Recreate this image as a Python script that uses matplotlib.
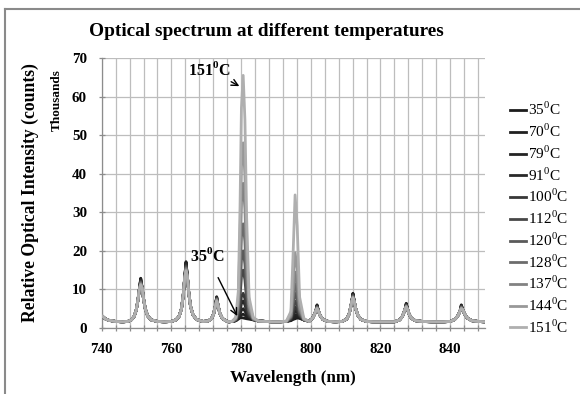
"""
Optical spectrum at different temperatures
"""
import matplotlib
matplotlib.use("Agg")
import matplotlib.pyplot as plt
from matplotlib.lines import Line2D
from matplotlib.ticker import MultipleLocator

plt.rcParams['font.family'] = ['Liberation Serif', 'DejaVu Serif']
plt.rcParams['mathtext.fontset'] = 'custom'
plt.rcParams['mathtext.rm'] = 'Liberation Serif'
plt.rcParams['mathtext.bf'] = 'Liberation Serif:bold'

# температуры серий (легенда)
temperatures = [35, 70, 79, 91, 100, 112, 120, 128, 137, 144, 151]
colors = ['#1c1c1c', '#202020', '#242424', '#292929', '#383838', '#474747',
          '#5a5a5a', '#6c6c6c', '#828282', '#989898', '#afafaf']

# общая часть спектра слева (740-775 нм), тыс. отсчётов
wl_left = [740, 741, 742, 744, 746, 747.5, 748.5, 749.3, 749.9, 750.4, 750.8, 751.2,
           751.6, 752.0, 752.5, 753.2, 754.2, 756, 758, 760, 761.3, 762.2, 762.9,
           763.4, 763.8, 764.2, 764.6, 765.0, 765.5, 766.2, 767.2, 769, 770.5,
           771.5, 772.1, 772.6, 773.0, 773.4, 773.9, 774.6, 775.6]
int_left = [3.2, 2.4, 2.0, 1.7, 1.6, 1.7, 2.1, 3.0, 4.6, 7.2, 10.0, 11.2,
            10.4, 7.6, 5.0, 3.1, 2.1, 1.7, 1.6, 1.7, 2.1, 3.0, 5.0,
            8.5, 12.8, 14.8, 13.2, 9.0, 5.6, 3.4, 2.2, 1.7, 1.8,
            2.4, 3.6, 5.6, 7.0, 5.8, 3.8, 2.5, 1.9]

# окно главной линии (~780.6 нм), своё для каждой температуры
wl_main = [776.5, 777.5, 778.5, 779.2, 779.7, 780.1, 780.6, 781.1, 781.6,
           782.3, 783.5, 785, 787, 789]
int_main = {
    35:  [1.6, 1.7, 1.9, 2.3, 2.6, 2.7, 2.6, 2.5, 2.4, 2.3, 2.1, 1.9, 1.7, 1.6],
    70:  [1.6, 1.7, 1.9, 2.5, 3.0, 3.4, 3.6, 3.3, 2.9, 2.5, 2.2, 1.9, 1.7, 1.6],
    79:  [1.6, 1.7, 1.9, 2.7, 3.7, 4.6, 5.0, 4.4, 3.5, 2.7, 2.2, 1.9, 1.7, 1.6],
    91:  [1.6, 1.7, 2.0, 3.0, 4.6, 6.3, 7.0, 6.0, 4.3, 2.9, 2.2, 1.8, 1.7, 1.6],
    100: [1.6, 1.7, 2.0, 3.3, 5.5, 8.1, 9.0, 7.6, 5.0, 3.1, 2.1, 1.8, 1.7, 1.6],
    112: [1.6, 1.7, 2.1, 3.9, 8.2, 13.3, 15.0, 12.5, 7.3, 3.6, 2.2, 1.8, 1.7, 1.6],
    120: [1.6, 1.7, 2.2, 4.5, 10.6, 17.6, 20.0, 16.6, 9.2, 4.0, 2.2, 1.8, 1.7, 1.6],
    128: [1.6, 1.7, 2.3, 5.3, 13.8, 23.6, 27.0, 22.4, 12.2, 4.6, 2.3, 1.8, 1.7, 1.6],
    137: [1.6, 1.7, 2.4, 6.3, 18.5, 32.6, 37.5, 31.0, 16.5, 5.4, 2.4, 1.8, 1.7, 1.6],
    144: [1.6, 1.7, 2.6, 7.4, 23.5, 41.8, 48.0, 39.5, 21.0, 6.2, 2.5, 1.8, 1.7, 1.6],
    151: [1.6, 1.8, 2.8, 9.5, 31.5, 57.0, 65.5, 54.0, 28.5, 8.0, 2.7, 1.8, 1.7, 1.6],
}

# окно второй линии (~795.5 нм)
wl_sec = [791, 793, 794.3, 794.9, 795.5, 796.1, 796.8, 798, 799.5]
int_sec = {
    35:  [1.6, 1.7, 1.9, 2.2, 2.4, 2.6, 2.5, 2.1, 1.8],
    70:  [1.6, 1.7, 2.0, 2.4, 2.8, 2.9, 2.6, 2.1, 1.8],
    79:  [1.6, 1.7, 2.1, 2.8, 3.5, 3.3, 2.8, 2.1, 1.8],
    91:  [1.6, 1.7, 2.2, 3.3, 4.5, 4.0, 3.0, 2.1, 1.8],
    100: [1.6, 1.7, 2.3, 3.8, 5.5, 4.7, 3.2, 2.1, 1.7],
    112: [1.6, 1.7, 2.5, 4.7, 7.0, 5.9, 3.5, 2.1, 1.7],
    120: [1.6, 1.7, 2.7, 5.8, 9.0, 7.5, 3.9, 2.1, 1.7],
    128: [1.6, 1.7, 2.9, 7.1, 11.5, 9.3, 4.4, 2.2, 1.7],
    137: [1.6, 1.7, 3.1, 8.7, 14.5, 11.6, 5.0, 2.2, 1.7],
    144: [1.6, 1.7, 3.5, 11.2, 19.5, 15.5, 5.8, 2.3, 1.7],
    151: [1.6, 1.8, 4.3, 18.5, 34.5, 26.5, 8.0, 2.5, 1.7],
}

# общая часть спектра справа (800-850 нм)
wl_right = [800.5, 801.1, 801.5, 801.8, 802.2, 802.7, 803.5, 805, 807, 809, 810.3,
            811.0, 811.5, 811.8, 812.1, 812.5, 812.9, 813.5, 814.4, 816, 818, 821,
            824, 825.5, 826.3, 826.8, 827.1, 827.4, 827.8, 828.2, 828.9, 830,
            832, 835, 838, 840, 841.3, 842.1, 842.6, 842.9, 843.2, 843.6, 844.1,
            844.9, 846.2, 848, 850]
int_right = [2.5, 3.6, 4.6, 5.0, 4.4, 3.2, 2.2, 1.7, 1.6, 1.7, 2.3,
             3.6, 5.6, 7.0, 7.8, 6.8, 5.0, 3.3, 2.2, 1.7, 1.6, 1.6,
             1.6, 2.1, 3.0, 4.2, 5.0, 5.5, 4.8, 3.6, 2.5, 1.9,
             1.7, 1.6, 1.6, 1.7, 2.2, 3.0, 3.9, 4.6, 5.0, 4.8, 3.7,
             2.6, 1.9, 1.7, 1.6]

# вершины малых линий по температурам
small_peaks = [751.2, 764.2, 773.0, 801.8, 812.1, 827.4, 843.2]
small_tops = {
    35:  [12.9, 17.2, 8.1, 6.0, 9.0, 6.4, 6.0],
    70:  [12.8, 17.0, 8.0, 5.9, 8.9, 6.3, 5.9],
    79:  [12.6, 16.8, 7.9, 5.8, 8.8, 6.2, 5.8],
    91:  [12.4, 16.5, 7.8, 5.7, 8.7, 6.1, 5.7],
    100: [12.2, 16.2, 7.7, 5.6, 8.5, 6.0, 5.6],
    112: [12.0, 16.0, 7.6, 5.5, 8.4, 5.9, 5.5],
    120: [11.8, 15.7, 7.5, 5.4, 8.3, 5.8, 5.4],
    128: [11.7, 15.5, 7.4, 5.3, 8.1, 5.7, 5.3],
    137: [11.5, 15.3, 7.3, 5.2, 8.0, 5.6, 5.2],
    144: [11.3, 15.0, 7.1, 5.1, 7.9, 5.5, 5.1],
    151: [11.2, 14.8, 7.0, 5.0, 7.8, 5.5, 5.0],
}


def series_for(t):
    wl = wl_left + wl_main + wl_sec + wl_right
    vals = int_left + int_main[t] + int_sec[t] + int_right
    for peak, top in zip(small_peaks, small_tops[t]):
        vals[wl.index(peak)] = top
    return wl, vals


W, H = 580, 394
fig = plt.figure(figsize=(W / 100, H / 100), dpi=100)
ax = fig.add_axes([101.7 / W, 1 - 328 / H, (485 - 101.7) / W, 270 / H])

handles = []
for t, c in zip(temperatures, colors):
    wl, vals = series_for(t)
    line, = ax.plot(wl, vals, color=c, linewidth=2.0, solid_joinstyle='round',
                    label=r'%d$^{\mathrm{0}}$C' % t, zorder=3)
    handles.append(line)

ax.set_xlim(740, 850)
ax.set_ylim(0, 70)
ax.xaxis.set_major_locator(MultipleLocator(20))
ax.xaxis.set_minor_locator(MultipleLocator(4))
ax.yaxis.set_major_locator(MultipleLocator(10))
ax.grid(True, which='both', axis='x', color='#bdbdbd', linewidth=0.9, zorder=0)
ax.grid(True, which='major', axis='y', color='#bdbdbd', linewidth=0.9, zorder=0)
ax.set_axisbelow(True)

for side in ['top', 'right']:
    ax.spines[side].set_visible(False)
for side in ['left', 'bottom']:
    ax.spines[side].set_color('#8c8c8c')
    ax.spines[side].set_linewidth(0.9)

ax.tick_params(axis='both', which='both', direction='inout', length=5,
               color='#8c8c8c', width=0.9)
ax.tick_params(axis='x', which='major', pad=8, labelsize=10.8)
ax.tick_params(axis='y', which='major', pad=8, labelsize=10.8)
for lbl in ax.get_xticklabels() + ax.get_yticklabels():
    lbl.set_fontweight('bold')

ax.set_xlabel('Wavelength (nm)', fontsize=12.3, fontweight='bold', va='center')
ax.xaxis.set_label_coords(0.5, -0.185)
ax.set_ylabel('Relative Optical Intensity (counts)', fontsize=12.7,
              fontweight='bold', va='center')
ax.yaxis.set_label_coords(-0.187, 0.5)
ax.text(-0.1166, 0.845, 'Thousands', transform=ax.transAxes, rotation=90,
        ha='center', va='center', fontsize=9.5, fontweight='bold')

# подписи 151 и 35 со стрелками
ax.annotate(r'151$^{\mathbf{0}}$C', xy=(779.5, 62.7), xytext=(770.9, 66.9),
            ha='center', va='center', fontsize=11.5, fontweight='bold',
            arrowprops=dict(arrowstyle='->', color='black', lw=1.0,
                            shrinkA=15, shrinkB=0), zorder=5)
ax.annotate(r'35$^{\mathbf{0}}$C', xy=(778.9, 3.1), xytext=(770.3, 18.7),
            ha='center', va='center', fontsize=11.5, fontweight='bold',
            arrowprops=dict(arrowstyle='->', color='black', lw=1.0,
                            shrinkA=8, shrinkB=0), zorder=5)

fig.text(266 / W, 1 - 32 / H, 'Optical spectrum at different temperatures',
         ha='center', va='center', fontsize=13.9, fontweight='bold')

fig.legend(handles=handles, loc='center left',
           bbox_to_anchor=(510 / W, 1 - 218.5 / H), frameon=False,
           fontsize=11, handlelength=1.05, handletextpad=0.15,
           labelspacing=0.29, borderpad=0, borderaxespad=0)

# рамка диаграммы
fig.add_artist(Line2D([5 / W, 5 / W], [0, 1 - 9 / H], color='#8a8a8a',
                      linewidth=1.5, transform=fig.transFigure))
fig.add_artist(Line2D([5 / W, 1], [1 - 9 / H, 1 - 9 / H], color='#8a8a8a',
                      linewidth=1.5, transform=fig.transFigure))

fig.savefig('out.png', dpi=100)
